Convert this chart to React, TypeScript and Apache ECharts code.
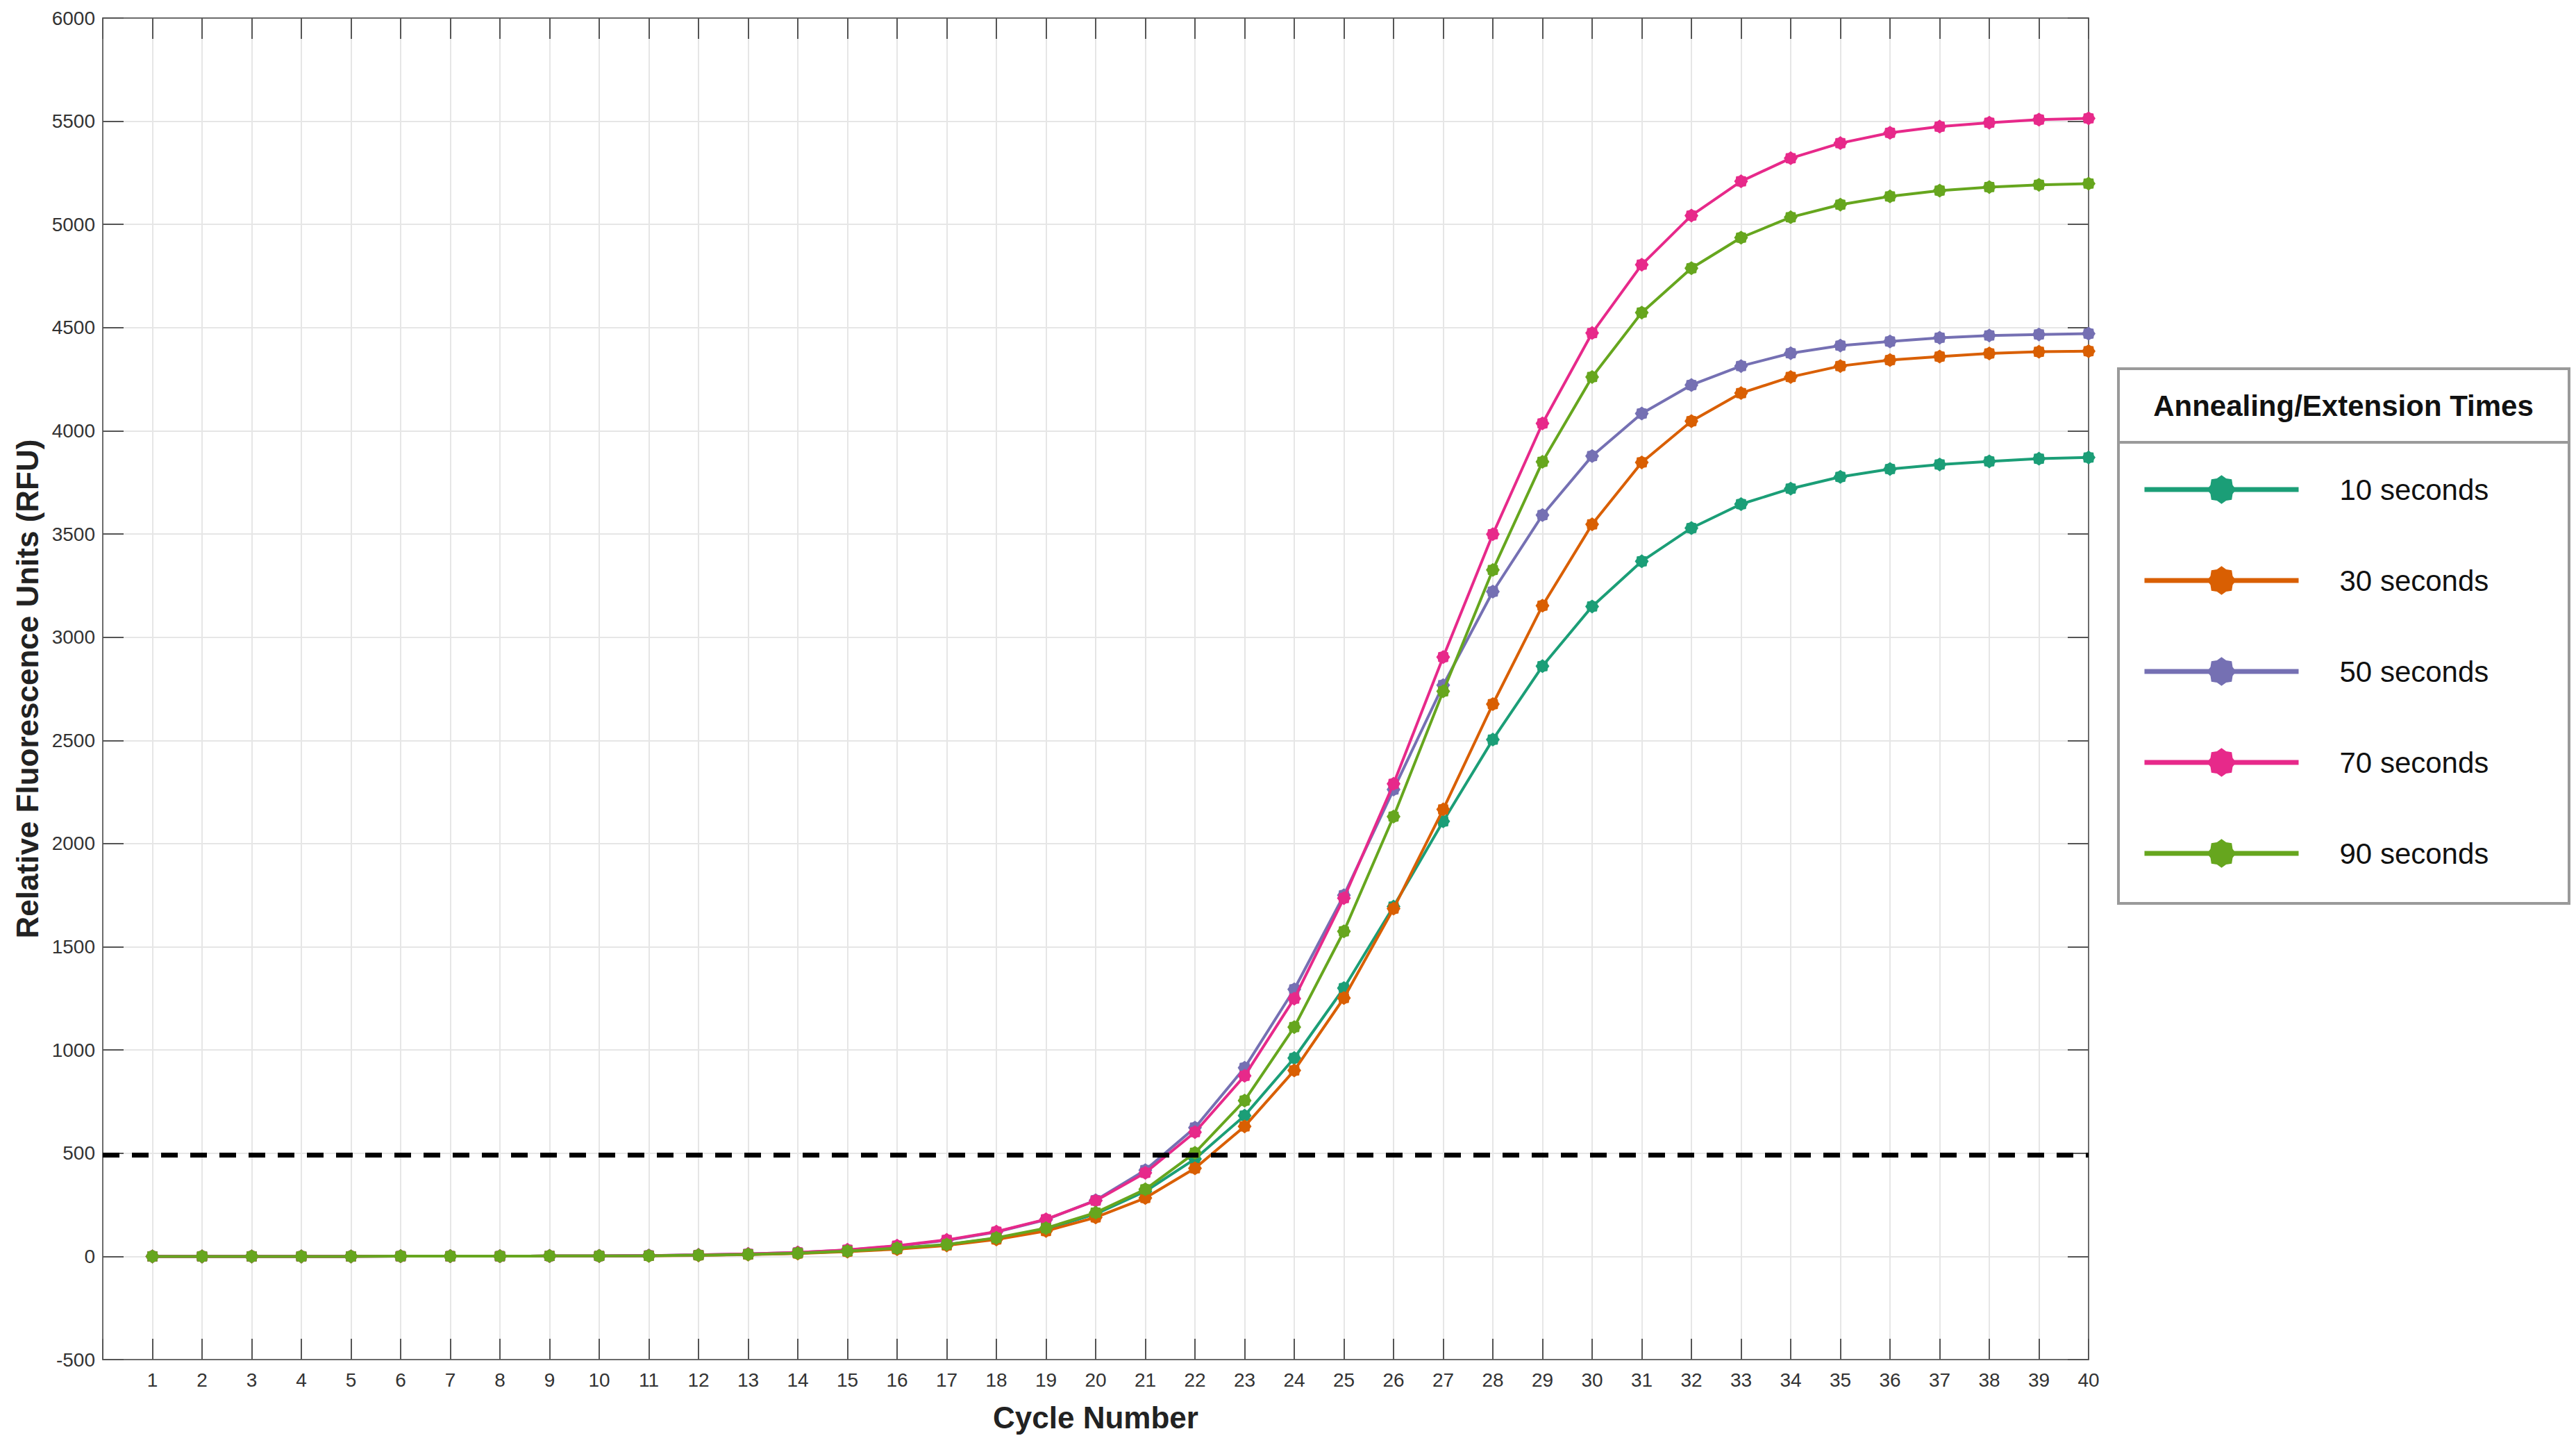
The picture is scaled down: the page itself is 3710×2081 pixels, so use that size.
import React, { useEffect, useRef } from "react";
import * as echarts from "echarts";

const cycles = [
  1, 2, 3, 4, 5, 6, 7, 8, 9, 10, 11, 12, 13, 14, 15, 16, 17, 18, 19, 20,
  21, 22, 23, 24, 25, 26, 27, 28, 29, 30, 31, 32, 33, 34, 35, 36, 37, 38, 39, 40,
];

const seriesNames = ["10 seconds", "30 seconds", "50 seconds", "70 seconds", "90 seconds"];
const seriesColors = ["#1b9e77", "#d95f02", "#7570b3", "#e7298a", "#66a61e"];

const rfu10 = [
  0, 0, 0, 0, 0, 1, 1, 1, 2, 2, 4, 6, 10, 16, 25, 38, 57, 88, 133, 205,
  315, 472, 682, 961, 1300, 1695, 2108, 2504, 2860, 3149, 3368, 3529, 3645, 3720, 3777, 3815, 3837, 3852, 3865, 3871,
];
const rfu30 = [
  0, 0, 0, 0, 0, 1, 1, 1, 2, 2, 3, 5, 9, 14, 23, 35, 53, 82, 123, 189,
  283, 427, 630, 901, 1252, 1685, 2166, 2676, 3153, 3547, 3847, 4047, 4183, 4261, 4314, 4343, 4360, 4375, 4383, 4386,
];
const rfu50 = [
  0, 0, 0, 0, 0, 1, 1, 1, 2, 2, 4, 7, 12, 19, 31, 50, 78, 118, 178, 272,
  418, 624, 914, 1294, 1750, 2262, 2768, 3221, 3592, 3878, 4084, 4222, 4314, 4376, 4413, 4433, 4451, 4462, 4467, 4471,
];
const rfu70 = [
  0, 0, 0, 0, 0, 1, 1, 1, 2, 2, 4, 7, 12, 19, 32, 52, 80, 120, 180, 270,
  405, 602, 875, 1249, 1736, 2290, 2904, 3499, 4036, 4474, 4805, 5043, 5209, 5321, 5394, 5444, 5474, 5493, 5508, 5514,
];
const rfu90 = [
  0, 0, 0, 0, 0, 1, 1, 1, 2, 2, 3, 6, 10, 16, 26, 40, 58, 90, 137, 212,
  325, 502, 755, 1111, 1575, 2131, 2738, 3326, 3850, 4261, 4573, 4788, 4936, 5035, 5096, 5136, 5164, 5181, 5192, 5198,
];
const seriesValues = [rfu10, rfu30, rfu50, rfu70, rfu90];

const threshold = 490;

const legendTitle = "Annealing/Extension Times";
const xAxisName = "Cycle Number";
const yAxisName = "Relative Fluorescence Units (RFU)";

const FONT = "'Liberation Sans', Arial, Helvetica, sans-serif";

// marker shape: rounded 8-lobed asterisk blob
function makeMarkerPath(): string {
  const lobes = 8;
  const pts: string[] = [];
  for (let i = 0; i < lobes * 2; i++) {
    const a = (i * Math.PI) / lobes - Math.PI / 2;
    const r = i % 2 === 0 ? 10 : 8.3;
    const x = 10 + r * Math.cos(a);
    const y = 10 + r * Math.sin(a);
    pts.push(`${i === 0 ? "M" : "L"}${x.toFixed(3)} ${y.toFixed(3)}`);
  }
  return "path://" + pts.join(" ") + " Z";
}
const markerSymbol = makeMarkerPath();

export default function App() {
  const ref = useRef<HTMLDivElement | null>(null);

  useEffect(() => {
    document.body.style.margin = "0";
    if (!ref.current) return;
    const chart = echarts.init(ref.current, null, { renderer: "svg" });

    const axisLineStyle = { color: "#6b6b6b", width: 2 };
    const tickStyle = { color: "#555555", width: 2 };

    const series: any[] = seriesNames.map((name, si) => ({
      name,
      type: "line",
      xAxisIndex: 0,
      yAxisIndex: 0,
      data: cycles.map((c, i) => [c, seriesValues[si][i]]),
      symbol: markerSymbol,
      symbolSize: 20,
      showSymbol: true,
      lineStyle: { color: seriesColors[si], width: 4 },
      itemStyle: { color: seriesColors[si] },
      emphasis: { disabled: true },
      z: 3 + si,
    }));

    series[series.length - 1].markLine = {
      silent: true,
      symbol: ["none", "none"],
      label: { show: false },
      lineStyle: { color: "#000000", width: 7, type: [24, 18], cap: "butt" },
      emphasis: { disabled: true },
      data: [{ yAxis: threshold }],
      z: 20,
    };

    const option: any = {
      animation: false,
      backgroundColor: "#ffffff",
      textStyle: { fontFamily: FONT },
      grid: {
        left: 148,
        right: 702,
        top: 26,
        bottom: 123,
        containLabel: false,
        outerBoundsMode: "none",
      },
      xAxis: [
        {
          type: "value",
          position: "bottom",
          min: 0,
          max: 40,
          interval: 1,
          name: xAxisName,
          nameLocation: "middle",
          nameGap: 61,
          nameTextStyle: { fontSize: 44, fontWeight: "bold", color: "#222222", fontFamily: FONT },
          axisLine: { show: true, onZero: false, lineStyle: axisLineStyle },
          axisTick: { show: true, inside: true, length: 30, lineStyle: tickStyle },
          axisLabel: {
            fontSize: 28,
            color: "#333333",
            margin: 15,
            fontFamily: FONT,
            formatter: (v: number) => (v === 0 ? "" : String(v)),
          },
          splitLine: { show: true, lineStyle: { color: "#e6e6e6", width: 2 } },
        },
        {
          type: "value",
          position: "top",
          min: 0,
          max: 40,
          interval: 1,
          axisLine: { show: true, onZero: false, lineStyle: axisLineStyle },
          axisTick: { show: true, inside: true, length: 30, lineStyle: tickStyle },
          axisLabel: { show: false },
          splitLine: { show: false },
        },
      ],
      yAxis: [
        {
          type: "value",
          position: "left",
          min: -500,
          max: 6000,
          interval: 500,
          name: yAxisName,
          nameLocation: "middle",
          nameGap: 87,
          nameTextStyle: { fontSize: 44, fontWeight: "bold", color: "#222222", fontFamily: FONT },
          axisLine: { show: true, onZero: false, lineStyle: axisLineStyle },
          axisTick: { show: true, inside: true, length: 30, lineStyle: tickStyle },
          axisLabel: {
            fontSize: 28,
            color: "#333333",
            margin: 11,
            fontFamily: FONT,
            formatter: (v: number) => String(v),
          },
          splitLine: { show: true, lineStyle: { color: "#e6e6e6", width: 2 } },
        },
        {
          type: "value",
          position: "right",
          min: -500,
          max: 6000,
          interval: 500,
          axisLine: { show: true, onZero: false, lineStyle: axisLineStyle },
          axisTick: { show: true, inside: true, length: 30, lineStyle: tickStyle },
          axisLabel: { show: false },
          splitLine: { show: false },
        },
      ],
      legend: {
        show: true,
        orient: "vertical",
        left: 3080,
        top: 679,
        itemWidth: 222,
        itemHeight: 52,
        itemGap: 89,
        selectedMode: false,
        data: seriesNames,
        lineStyle: { width: 7 },
        textStyle: {
          fontSize: 42,
          color: "#111111",
          fontFamily: FONT,
          padding: [0, 0, 0, 54],
        },
        z: 10,
      },
      graphic: [
        {
          type: "rect",
          z: 1,
          shape: { x: 3051, y: 531, width: 649, height: 770 },
          style: { fill: "#ffffff", stroke: "#9a9a9a", lineWidth: 4 },
          silent: true,
        },
        {
          type: "line",
          z: 2,
          shape: { x1: 3051, y1: 637, x2: 3700, y2: 637 },
          style: { stroke: "#9a9a9a", lineWidth: 4 },
          silent: true,
        },
        {
          type: "text",
          z: 2,
          x: 3375,
          y: 584,
          style: {
            text: legendTitle,
            fontSize: 42,
            fontWeight: "bold",
            fontFamily: FONT,
            fill: "#111111",
            align: "center",
            verticalAlign: "middle",
          },
          silent: true,
        },
      ],
      series,
    };

    chart.setOption(option);
    return () => {
      chart.dispose();
    };
  }, []);

  return (
    <div
      ref={ref}
      style={{ position: "absolute", left: 0, top: 0, width: 3710, height: 2081, background: "#ffffff" }}
    />
  );
}
